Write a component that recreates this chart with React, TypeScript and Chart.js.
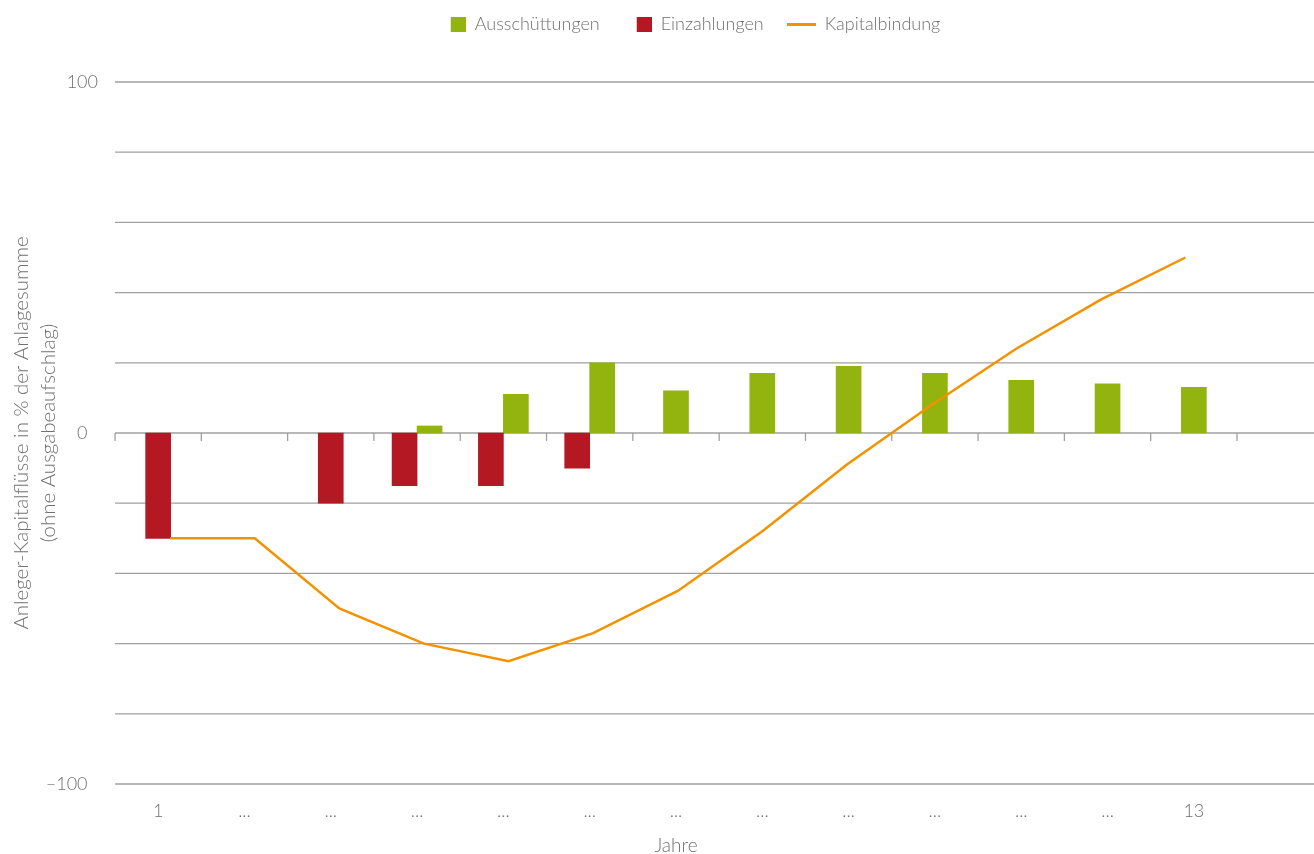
import React, { useEffect, useRef } from 'react';
import { Chart, registerables } from 'chart.js';

Chart.register(...registerables);

// ---- data ----
const categories = ['1', '...', '...', '...', '...', '...', '...', '...', '...', '...', '...', '...', '13'];
const lineYears = [1, 2, 3, 4, 5, 6, 7, 8, 9, 10, 11, 12, 13];
const ausschuettungen: (number | null)[] = [null, null, null, 2, 11, 20, 12, 17, 19, 17, 15, 14, 13];
const einzahlungen: (number | null)[] = [-30, null, -20, -15, -15, -10, null, null, null, null, null, null, null];
const kapitalbindung = [-30, -30, -50, -60, -65, -57, -45, -28, -9, 8, 24, 38, 50];
const yLabeledTicks = [100, 0, -100];
const yTickText = ['100', '0\u2007', '\u2013100\u2007'];
const seriesNames = ['Ausschüttungen', 'Einzahlungen', 'Kapitalbindung'];
const yTitle = ['Anleger-Kapitalflüsse in % der Anlagesumme', '(ohne Ausgabeaufschlag)'];
const xTitle = 'Jahre';

// ---- styles ----
const GREEN = '#93b30f';
const RED = '#b41823';
const ORANGE = '#f39200';
const TEXT = '#707070';
const GRID = '#a0a0a0';
const FAMILY = 'Lato, "Open Sans", sans-serif';
const LEGEND_SHIFT_X = 70;
const LEGEND_SHIFT_Y = -8;
const LINE_AXIS_MIN = 0.3485;
const LINE_AXIS_MAX = 13.61;

export default function App() {
  const ref = useRef<HTMLCanvasElement>(null);

  useEffect(() => {
    const canvas = ref.current;
    if (!canvas) return;

    const mkSquare = (color: string) => {
      const c = document.createElement('canvas');
      c.width = 29; c.height = 15;
      const g = c.getContext('2d')!;
      g.fillStyle = color;
      g.fillRect(14, 0, 15, 15);
      return c;
    };
    const mkLine = (color: string) => {
      const c = document.createElement('canvas');
      c.width = 29; c.height = 3;
      const g = c.getContext('2d')!;
      g.fillStyle = color;
      g.fillRect(0, 0, 29, 3);
      return c;
    };
    const markers = [mkSquare(GREEN), mkSquare(RED), mkLine(ORANGE)];

    const refPlugin: any = {
      id: 'refLayout',
      beforeLayout(chart: any) {
        const lg = chart.legend;
        if (lg && !lg._patchedFit) {
          const orig = lg.fit.bind(lg);
          lg.fit = function () { orig(); this.height = 82; };
          lg._patchedFit = true;
        }
      },
      afterLayout(chart: any) {
        const lg = chart.legend;
        if (lg) {
          lg.left += LEGEND_SHIFT_X; lg.right += LEGEND_SHIFT_X;
          lg.top += LEGEND_SHIFT_Y; lg.bottom += LEGEND_SHIFT_Y;
        }
      },
      beforeDatasetsDraw(chart: any) {
        const { ctx, chartArea, scales } = chart;
        const xs = scales.x, ys = scales.y;
        ctx.save();
        ctx.strokeStyle = GRID;
        ctx.lineWidth = 1.3;
        // horizontal gridlines from the plot's left edge to the right edge of the canvas
        ys.ticks.forEach((t: any) => {
          const py = ys.getPixelForValue(t.value);
          ctx.beginPath();
          ctx.moveTo(chartArea.left, py);
          ctx.lineTo(chart.width, py);
          ctx.stroke();
        });
        // tick marks on the zero line
        const y0 = ys.getPixelForValue(0);
        for (let i = 0; i <= categories.length; i++) {
          const px = xs.getPixelForValue(i - 0.5);
          ctx.beginPath();
          ctx.moveTo(px, y0);
          ctx.lineTo(px, y0 + 8);
          ctx.stroke();
        }
        ctx.restore();
      },
    };

    const font = { family: FAMILY, size: 18, weight: '300' as any };

    const chart = new Chart(canvas, {
      type: 'bar',
      data: {
        labels: categories,
        datasets: [
          {
            label: seriesNames[0],
            data: ausschuettungen as any,
            indexAxis: 'x',
            backgroundColor: GREEN,
            borderWidth: 0,
            barThickness: 25,
            skipNull: true,
            order: 2,
          } as any,
          {
            label: seriesNames[1],
            data: einzahlungen as any,
            indexAxis: 'x',
            backgroundColor: RED,
            borderWidth: 0,
            barThickness: 25,
            skipNull: true,
            order: 1,
          } as any,
          {
            type: 'line',
            label: seriesNames[2],
            data: lineYears.map((x, i) => ({ x, y: kapitalbindung[i] })),
            indexAxis: 'x',
            xAxisID: 'x2',
            borderColor: ORANGE,
            backgroundColor: ORANGE,
            borderWidth: 2.5,
            pointRadius: 0,
            tension: 0,
            fill: false,
            order: 0,
          } as any,
        ],
      },
      options: {
        // bars are vertical through each dataset's own indexAxis; the chart-level
        // value keeps the bar grouping from counting the line's extra x axis
        indexAxis: 'y',
        responsive: false,
        animation: false,
        events: [],
        layout: { padding: { top: 0, left: 0, right: 77, bottom: 0 } },
        plugins: {
          tooltip: { enabled: false },
          legend: {
            position: 'top',
            labels: {
              usePointStyle: true,
              pointStyleWidth: 29,
              padding: 23,
              color: TEXT,
              font,
              sort: (a: any, b: any) => a.datasetIndex - b.datasetIndex,
              generateLabels: (ch: any) => {
                const items = (Chart.defaults.plugins.legend.labels as any).generateLabels(ch);
                return items.map((it: any) => ({ ...it, pointStyle: markers[it.datasetIndex] }));
              },
            },
          },
        },
        scales: {
          x: {
            type: 'category',
            offset: true,
            afterFit: (s: any) => { s.height = 70; },
            border: { display: false },
            grid: { display: false, drawTicks: false, offset: true },
            ticks: { padding: 16, autoSkip: false, maxRotation: 0, color: TEXT, font },
            title: { display: true, text: xTitle, color: TEXT, font: { ...font, size: 19, lineHeight: 0.85 }, padding: { top: 0, bottom: 0 } },
          },
          x2: {
            type: 'linear',
            display: false,
            offset: false,
            min: LINE_AXIS_MIN,
            max: LINE_AXIS_MAX,
          },
          y: {
            type: 'linear',
            offset: false,
            min: -100,
            max: 100,
            afterFit: (s: any) => { s.width = 115; },
            border: { display: false },
            grid: { display: false, drawTicks: false, offset: false },
            ticks: {
              stepSize: 20,
              padding: 17,
              autoSkip: false,
              color: TEXT,
              font,
              callback: (v: any) => {
                const i = yLabeledTicks.indexOf(Number(v));
                return i >= 0 ? yTickText[i] : '';
              },
            },
            title: { display: true, text: yTitle, color: TEXT, font: { ...font, size: 20.5, lineHeight: 1.3 }, padding: { top: 8, bottom: 0 } },
          },
        },
      } as any,
      plugins: [refPlugin],
    });

    return () => chart.destroy();
  }, []);

  return (
    <div style={{ position: 'fixed', left: 0, top: 0, width: 1314, height: 854, background: '#fff' }}>
      <canvas ref={ref} width={1314} height={854} style={{ display: 'block' }} />
    </div>
  );
}
